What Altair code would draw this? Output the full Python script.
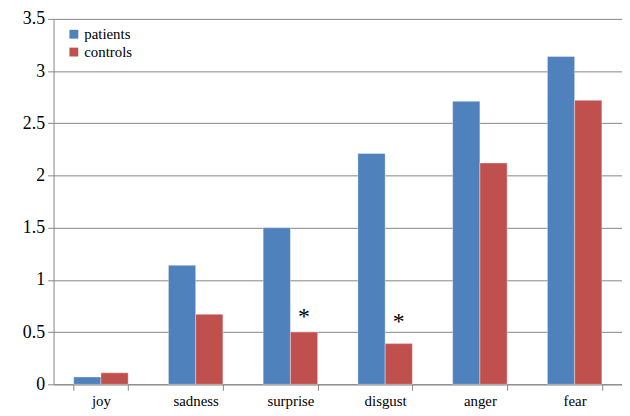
import altair as alt
import pandas as pd

emotions = ["joy", "sadness", "surprise", "disgust", "anger", "fear"]
patients = [0.07, 1.14, 1.50, 2.21, 2.71, 3.14]
controls = [0.11, 0.67, 0.50, 0.39, 2.12, 2.72]
groups = ["patients", "controls"]
star_emotions = ["surprise", "disgust"]
star_y = [0.70, 0.655]

rows = []
for e, p, c in zip(emotions, patients, controls):
    rows.append({"emotion": e, "group": "patients", "value": p})
    rows.append({"emotion": e, "group": "controls", "value": c})
df = pd.DataFrame(rows)
stars = pd.DataFrame({"emotion": star_emotions, "group": ["controls"] * 2, "y": star_y, "label": ["*", "*"]})

font = "Liberation Serif"
gray = "#868686"
xscale = alt.Scale(domain=emotions, paddingInner=0.425, paddingOuter=0.2125)
xoff = alt.Scale(domain=groups, paddingInner=0, paddingOuter=0)
yscale = alt.Scale(domain=[0, 3.5], nice=False)
color = alt.Scale(domain=groups, range=["#4F81BD", "#C0504D"])

xaxis = alt.Axis(labelAngle=0, tickBand="extent", grid=False, domainColor=gray,
                 tickColor=gray, tickSize=6, labelFont=font, labelFontSize=15,
                 labelColor="black", labelPadding=3)
yaxis = alt.Axis(values=[0, 0.5, 1, 1.5, 2, 2.5, 3, 3.5], labelExpr="datum.value",
                 grid=True, gridColor=gray, domainColor=gray, tickColor=gray,
                 tickSize=6, labelFont=font, labelFontSize=18, labelColor="black",
                 labelPadding=3)

bars = alt.Chart(df).mark_bar(stroke="white", strokeWidth=0.6, strokeOpacity=0.6).encode(
    x=alt.X("emotion:N", scale=xscale, sort=emotions, title=None, axis=xaxis),
    xOffset=alt.XOffset("group:N", scale=xoff, sort=groups),
    y=alt.Y("value:Q", scale=yscale, title=None, axis=yaxis),
    color=alt.Color("group:N", scale=color, sort=groups,
                    legend=alt.Legend(title=None, orient="none", legendX=13, legendY=8,
                                      symbolType="square", symbolSize=80, symbolStrokeWidth=0,
                                      labelFont=font, labelFontSize=15, labelColor="black",
                                      rowPadding=2, labelOffset=3)),
)

star_layer = alt.Chart(stars).mark_text(font=font, fontSize=24, baseline="middle", dy=6).encode(
    x=alt.X("emotion:N", scale=xscale, sort=emotions, title=None, axis=xaxis),
    xOffset=alt.XOffset("group:N", scale=xoff, sort=groups),
    y=alt.Y("y:Q", scale=yscale, title=None, axis=yaxis),
    text="label:N",
)

chart = alt.layer(bars, star_layer).properties(
    width=574, height=369,
    autosize=alt.AutoSizeParams(type="none"),
    padding={"left": 46, "top": 9, "right": 0, "bottom": 30},
    background="white",
).configure(
    style={"guide-label": {"font": font, "fontSize": 16, "fill": "black"}}
).configure_view(stroke=None).configure_axisX(
    labelFont=font, labelFontSize=15
).configure_axisY(labelFont=font, labelFontSize=18)

chart.save("out.html", embed_options={"renderer": "svg", "actions": False})
